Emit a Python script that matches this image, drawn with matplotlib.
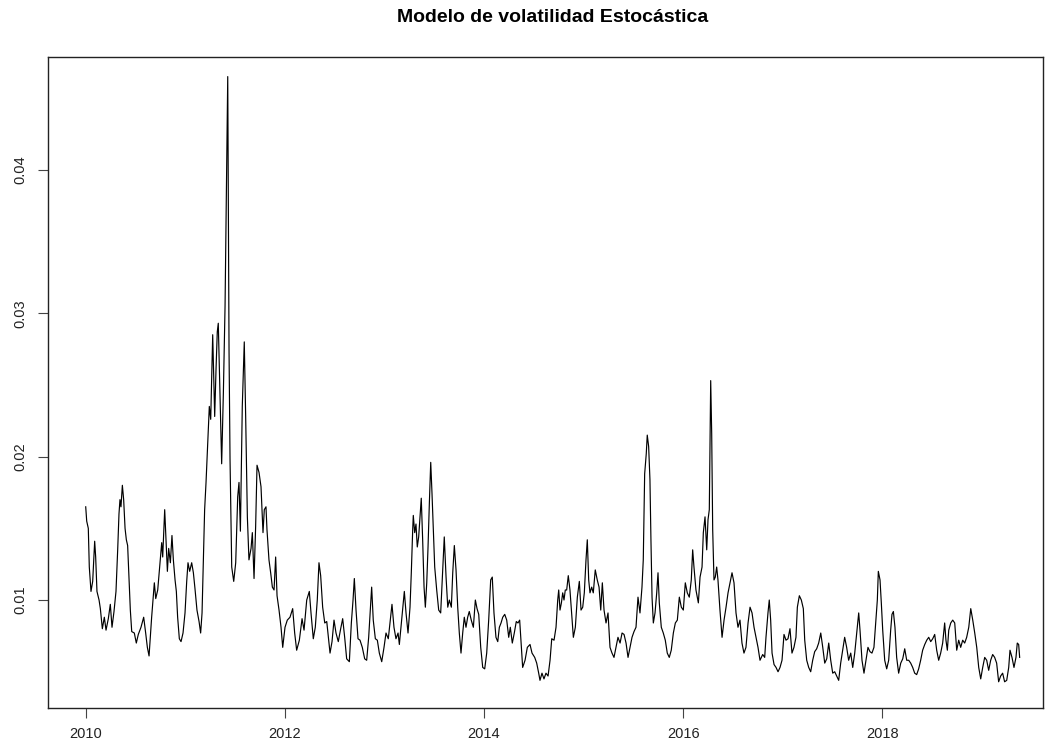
import numpy as np
import matplotlib
matplotlib.use("Agg")
import matplotlib.pyplot as plt

plt.rcParams['font.family'] = ['Liberation Sans', 'DejaVu Sans']

# Estimated volatility, split in blocks of time
t_2010_11 = [2010.002, 2010.012, 2010.028, 2010.038, 2010.055, 2010.072, 2010.092, 2010.102, 2010.115, 2010.136,
             2010.149, 2010.169, 2010.189, 2010.206, 2010.229, 2010.249, 2010.266, 2010.286, 2010.306, 2010.323,
             2010.336, 2010.346, 2010.356, 2010.370, 2010.383, 2010.397, 2010.410, 2010.423, 2010.437, 2010.450,
             2010.464, 2010.490, 2010.510, 2010.530, 2010.557, 2010.584, 2010.604, 2010.621, 2010.638, 2010.664,
             2010.691, 2010.705, 2010.725, 2010.748, 2010.765, 2010.775, 2010.788, 2010.795, 2010.808, 2010.822,
             2010.835, 2010.852, 2010.868, 2010.882, 2010.899, 2010.912, 2010.925, 2010.942, 2010.959, 2010.979,
             2010.999, 2011.016, 2011.029, 2011.046, 2011.066, 2011.083, 2011.099, 2011.119, 2011.140, 2011.156,
             2011.170, 2011.183, 2011.196, 2011.210, 2011.220, 2011.233, 2011.243, 2011.257, 2011.277, 2011.297,
             2011.310, 2011.323, 2011.333, 2011.350, 2011.367, 2011.384, 2011.401, 2011.418, 2011.428, 2011.441,
             2011.451, 2011.468, 2011.488, 2011.508, 2011.528, 2011.541, 2011.555, 2011.574, 2011.594, 2011.608,
             2011.625, 2011.641, 2011.662, 2011.675, 2011.692, 2011.708, 2011.722, 2011.742, 2011.762, 2011.782,
             2011.795, 2011.812, 2011.822, 2011.842, 2011.859, 2011.876, 2011.893, 2011.909, 2011.923, 2011.943,
             2011.963, 2011.980]
vol_2010_11 = [0.0165, 0.0155, 0.0150, 0.0123, 0.0106, 0.0113, 0.0141, 0.0130, 0.0106, 0.0100,
               0.0094, 0.0080, 0.0088, 0.0079, 0.0087, 0.0097, 0.0081, 0.0092, 0.0106, 0.0135,
               0.0160, 0.0170, 0.0165, 0.0180, 0.0170, 0.0150, 0.0142, 0.0138, 0.0114, 0.0093,
               0.0078, 0.0077, 0.0070, 0.0076, 0.0081, 0.0088, 0.0077, 0.0067, 0.0061, 0.0088,
               0.0112, 0.0101, 0.0107, 0.0126, 0.0140, 0.0130, 0.0152, 0.0163, 0.0142, 0.0120,
               0.0136, 0.0126, 0.0145, 0.0128, 0.0114, 0.0106, 0.0088, 0.0073, 0.0071, 0.0077,
               0.0091, 0.0113, 0.0126, 0.0120, 0.0126, 0.0119, 0.0108, 0.0093, 0.0085, 0.0077,
               0.0091, 0.0128, 0.0163, 0.0182, 0.0198, 0.0219, 0.0235, 0.0226, 0.0285, 0.0228,
               0.0260, 0.0287, 0.0293, 0.0244, 0.0195, 0.0244, 0.0305, 0.0407, 0.0465, 0.0274,
               0.0198, 0.0123, 0.0113, 0.0126, 0.0172, 0.0182, 0.0148, 0.0235, 0.0280, 0.0228,
               0.0158, 0.0128, 0.0136, 0.0147, 0.0115, 0.0151, 0.0194, 0.0189, 0.0179, 0.0147,
               0.0163, 0.0165, 0.0149, 0.0128, 0.0119, 0.0109, 0.0107, 0.0130, 0.0103, 0.0093,
               0.0081, 0.0067]

t_2012_13 = [2012.003, 2012.026, 2012.053, 2012.080, 2012.100, 2012.120, 2012.147, 2012.174, 2012.194, 2012.221,
             2012.247, 2012.264, 2012.287, 2012.307, 2012.327, 2012.344, 2012.361, 2012.381, 2012.402, 2012.422,
             2012.442, 2012.455, 2012.475, 2012.495, 2012.515, 2012.538, 2012.562, 2012.582, 2012.602, 2012.622,
             2012.649, 2012.669, 2012.686, 2012.699, 2012.716, 2012.736, 2012.756, 2012.779, 2012.803, 2012.823,
             2012.843, 2012.859, 2012.873, 2012.889, 2012.910, 2012.930, 2012.950, 2012.974, 2012.997, 2013.017,
             2013.040, 2013.057, 2013.077, 2013.097, 2013.117, 2013.138, 2013.151, 2013.171, 2013.185, 2013.201,
             2013.218, 2013.238, 2013.258, 2013.271, 2013.285, 2013.291, 2013.305, 2013.318, 2013.331, 2013.345,
             2013.358, 2013.371, 2013.385, 2013.399, 2013.412, 2013.426, 2013.439, 2013.452, 2013.466, 2013.479,
             2013.492, 2013.506, 2013.526, 2013.546, 2013.566, 2013.586, 2013.602, 2013.620, 2013.637, 2013.653,
             2013.673, 2013.687, 2013.703, 2013.720, 2013.737, 2013.753, 2013.770, 2013.787, 2013.803, 2013.820,
             2013.837, 2013.853, 2013.873, 2013.894, 2013.914, 2013.931, 2013.948, 2013.968, 2013.988]
vol_2012_13 = [0.0081, 0.0086, 0.0088, 0.0094, 0.0077, 0.0065, 0.0072, 0.0087, 0.0079, 0.0100,
               0.0106, 0.0091, 0.0073, 0.0081, 0.0100, 0.0126, 0.0117, 0.0095, 0.0084, 0.0085,
               0.0072, 0.0063, 0.0071, 0.0086, 0.0077, 0.0071, 0.0080, 0.0087, 0.0074, 0.0059,
               0.0057, 0.0084, 0.0100, 0.0115, 0.0093, 0.0073, 0.0072, 0.0067, 0.0059, 0.0058,
               0.0074, 0.0093, 0.0109, 0.0086, 0.0073, 0.0072, 0.0063, 0.0057, 0.0067, 0.0077,
               0.0073, 0.0084, 0.0097, 0.0081, 0.0073, 0.0077, 0.0069, 0.0084, 0.0095, 0.0106,
               0.0091, 0.0077, 0.0095, 0.0119, 0.0149, 0.0159, 0.0147, 0.0153, 0.0137, 0.0144,
               0.0158, 0.0171, 0.0142, 0.0109, 0.0095, 0.0112, 0.0137, 0.0167, 0.0196, 0.0174,
               0.0149, 0.0123, 0.0107, 0.0093, 0.0091, 0.0121, 0.0144, 0.0116, 0.0095, 0.0100,
               0.0095, 0.0119, 0.0138, 0.0121, 0.0095, 0.0077, 0.0063, 0.0077, 0.0088, 0.0081,
               0.0088, 0.0092, 0.0086, 0.0081, 0.0100, 0.0094, 0.0090, 0.0067, 0.0053]

t_2014_15 = [2014.008, 2014.028, 2014.048, 2014.068, 2014.084, 2014.101, 2014.121, 2014.139, 2014.155, 2014.172,
             2014.189, 2014.209, 2014.229, 2014.249, 2014.265, 2014.285, 2014.305, 2014.325, 2014.342, 2014.359,
             2014.389, 2014.413, 2014.436, 2014.463, 2014.483, 2014.510, 2014.530, 2014.550, 2014.563, 2014.583,
             2014.603, 2014.623, 2014.644, 2014.664, 2014.681, 2014.704, 2014.724, 2014.741, 2014.751, 2014.764,
             2014.778, 2014.791, 2014.804, 2014.817, 2014.831, 2014.847, 2014.864, 2014.881, 2014.898, 2014.918,
             2014.938, 2014.958, 2014.975, 2014.992, 2015.008, 2015.025, 2015.038, 2015.052, 2015.065, 2015.082,
             2015.098, 2015.118, 2015.138, 2015.156, 2015.173, 2015.189, 2015.206, 2015.226, 2015.246, 2015.266,
             2015.286, 2015.306, 2015.326, 2015.346, 2015.367, 2015.387, 2015.407, 2015.427, 2015.447, 2015.467,
             2015.487, 2015.507, 2015.527, 2015.547, 2015.567, 2015.587, 2015.600, 2015.614, 2015.630, 2015.640,
             2015.654, 2015.667, 2015.677, 2015.688, 2015.701, 2015.718, 2015.735, 2015.748, 2015.761, 2015.781,
             2015.801, 2015.821, 2015.841, 2015.861, 2015.881, 2015.902, 2015.922, 2015.942, 2015.962, 2015.982]
vol_2014_15 = [0.0052, 0.0063, 0.0086, 0.0114, 0.0116, 0.0091, 0.0074, 0.0071, 0.0081, 0.0084,
               0.0088, 0.0090, 0.0086, 0.0074, 0.0081, 0.0070, 0.0077, 0.0085, 0.0084, 0.0086,
               0.0053, 0.0058, 0.0067, 0.0069, 0.0063, 0.0060, 0.0056, 0.0049, 0.0044, 0.0049,
               0.0045, 0.0049, 0.0047, 0.0058, 0.0073, 0.0072, 0.0081, 0.0100, 0.0107, 0.0093,
               0.0098, 0.0105, 0.0100, 0.0107, 0.0107, 0.0117, 0.0107, 0.0091, 0.0074, 0.0081,
               0.0102, 0.0113, 0.0093, 0.0095, 0.0105, 0.0128, 0.0142, 0.0114, 0.0105, 0.0109,
               0.0105, 0.0121, 0.0114, 0.0109, 0.0093, 0.0112, 0.0093, 0.0084, 0.0091, 0.0067,
               0.0063, 0.0060, 0.0067, 0.0074, 0.0070, 0.0077, 0.0076, 0.0070, 0.0060, 0.0067,
               0.0074, 0.0078, 0.0081, 0.0102, 0.0091, 0.0109, 0.0128, 0.0188, 0.0202, 0.0215,
               0.0207, 0.0184, 0.0142, 0.0102, 0.0084, 0.0091, 0.0105, 0.0119, 0.0098, 0.0081,
               0.0077, 0.0072, 0.0063, 0.0060, 0.0065, 0.0077, 0.0084, 0.0086, 0.0102, 0.0095]

t_2016_17 = [2016.002, 2016.022, 2016.042, 2016.062, 2016.082, 2016.096, 2016.109, 2016.129, 2016.153, 2016.170,
             2016.190, 2016.203, 2016.220, 2016.237, 2016.250, 2016.263, 2016.277, 2016.287, 2016.297, 2016.310,
             2016.323, 2016.337, 2016.350, 2016.370, 2016.391, 2016.411, 2016.431, 2016.451, 2016.471, 2016.491,
             2016.511, 2016.531, 2016.551, 2016.571, 2016.591, 2016.611, 2016.631, 2016.652, 2016.672, 2016.692,
             2016.712, 2016.732, 2016.752, 2016.772, 2016.799, 2016.819, 2016.832, 2016.852, 2016.865, 2016.879,
             2016.893, 2016.913, 2016.933, 2016.953, 2016.973, 2016.993, 2017.013, 2017.033, 2017.053, 2017.073,
             2017.093, 2017.113, 2017.133, 2017.147, 2017.167, 2017.187, 2017.207, 2017.221, 2017.241, 2017.261,
             2017.281, 2017.301, 2017.321, 2017.341, 2017.361, 2017.382, 2017.402, 2017.422, 2017.442, 2017.462,
             2017.482, 2017.502, 2017.522, 2017.542, 2017.562, 2017.582, 2017.602, 2017.622, 2017.642, 2017.662,
             2017.683, 2017.703, 2017.723, 2017.743, 2017.763, 2017.776, 2017.796, 2017.816, 2017.836, 2017.856,
             2017.876, 2017.896, 2017.916, 2017.936, 2017.950, 2017.960, 2017.977, 2017.990]
vol_2016_17 = [0.0093, 0.0112, 0.0105, 0.0102, 0.0114, 0.0135, 0.0123, 0.0107, 0.0098, 0.0116,
               0.0123, 0.0147, 0.0158, 0.0135, 0.0156, 0.0163, 0.0253, 0.0216, 0.0149, 0.0114,
               0.0116, 0.0123, 0.0114, 0.0093, 0.0074, 0.0086, 0.0095, 0.0105, 0.0112, 0.0119,
               0.0112, 0.0091, 0.0081, 0.0086, 0.0070, 0.0063, 0.0067, 0.0084, 0.0095, 0.0091,
               0.0081, 0.0074, 0.0067, 0.0058, 0.0062, 0.0060, 0.0074, 0.0091, 0.0100, 0.0086,
               0.0063, 0.0055, 0.0053, 0.0050, 0.0053, 0.0058, 0.0076, 0.0072, 0.0073, 0.0080,
               0.0063, 0.0067, 0.0074, 0.0095, 0.0103, 0.0100, 0.0094, 0.0072, 0.0058, 0.0053,
               0.0050, 0.0058, 0.0064, 0.0066, 0.0070, 0.0077, 0.0067, 0.0056, 0.0059, 0.0070,
               0.0058, 0.0049, 0.0050, 0.0047, 0.0044, 0.0056, 0.0065, 0.0074, 0.0067, 0.0058,
               0.0063, 0.0053, 0.0063, 0.0077, 0.0091, 0.0079, 0.0058, 0.0049, 0.0058, 0.0067,
               0.0064, 0.0063, 0.0067, 0.0086, 0.0100, 0.0120, 0.0114, 0.0098]

t_2018_19 = [2018.004, 2018.024, 2018.044, 2018.064, 2018.084, 2018.097, 2018.111, 2018.127, 2018.144, 2018.164,
             2018.185, 2018.205, 2018.225, 2018.245, 2018.265, 2018.285, 2018.305, 2018.325, 2018.345, 2018.365,
             2018.385, 2018.405, 2018.426, 2018.446, 2018.466, 2018.486, 2018.506, 2018.526, 2018.546, 2018.566,
             2018.586, 2018.606, 2018.626, 2018.639, 2018.653, 2018.667, 2018.687, 2018.707, 2018.727, 2018.747,
             2018.767, 2018.787, 2018.807, 2018.827, 2018.847, 2018.868, 2018.888, 2018.908, 2018.928, 2018.948,
             2018.968, 2018.988, 2019.008, 2019.028, 2019.048, 2019.068, 2019.088, 2019.108, 2019.128, 2019.148,
             2019.168, 2019.188, 2019.208, 2019.228, 2019.249, 2019.269, 2019.282, 2019.302, 2019.322, 2019.342,
             2019.355, 2019.369, 2019.379]
vol_2018_19 = [0.0079, 0.0058, 0.0052, 0.0058, 0.0079, 0.0090, 0.0092, 0.0081, 0.0060, 0.0049,
               0.0056, 0.0059, 0.0066, 0.0058, 0.0058, 0.0056, 0.0053, 0.0049, 0.0048, 0.0052,
               0.0058, 0.0065, 0.0069, 0.0072, 0.0074, 0.0071, 0.0073, 0.0076, 0.0065, 0.0058,
               0.0063, 0.0070, 0.0084, 0.0072, 0.0065, 0.0079, 0.0084, 0.0086, 0.0084, 0.0065,
               0.0072, 0.0067, 0.0072, 0.0070, 0.0074, 0.0081, 0.0094, 0.0086, 0.0077, 0.0067,
               0.0053, 0.0045, 0.0053, 0.0060, 0.0058, 0.0051, 0.0058, 0.0062, 0.0060, 0.0056,
               0.0043, 0.0047, 0.0049, 0.0043, 0.0044, 0.0053, 0.0065, 0.0060, 0.0053, 0.0060,
               0.0070, 0.0069, 0.0060]

years = np.concatenate([t_2010_11, t_2012_13, t_2014_15, t_2016_17, t_2018_19])
vol = np.concatenate([vol_2010_11, vol_2012_13, vol_2014_15, vol_2016_17, vol_2018_19])

x_ticks = [2010, 2012, 2014, 2016, 2018]
y_ticks = [0.01, 0.02, 0.03, 0.04]

fig = plt.figure(figsize=(10.46, 7.46), dpi=100)
ax = fig.add_axes([0.0459, 0.0509, 0.9512, 0.8727])

ax.plot(years, vol, color='black', linewidth=0.85)

ax.set_xlim(2009.6235, 2019.613)
ax.set_ylim(0.002469, 0.047866)

ax.set_xticks(x_ticks)
ax.set_xticklabels([str(y) for y in x_ticks])
ax.set_yticks(y_ticks)
ax.set_yticklabels([f'{v:.2f}' for v in y_ticks], rotation=90, va='center')
ax.tick_params(axis='both', direction='out', length=7, width=0.8, colors='#444444',
               labelsize=10.5, labelcolor='#222222')
ax.tick_params(axis='x', pad=7)
ax.tick_params(axis='y', pad=8)

for sp in ax.spines.values():
    sp.set_color('#222222')
    sp.set_linewidth(1.0)

fig.suptitle('Modelo de volatilidad Estocástica', x=0.528, y=0.988,
             fontsize=14, fontweight='bold')

fig.savefig('out.png', dpi=100)
